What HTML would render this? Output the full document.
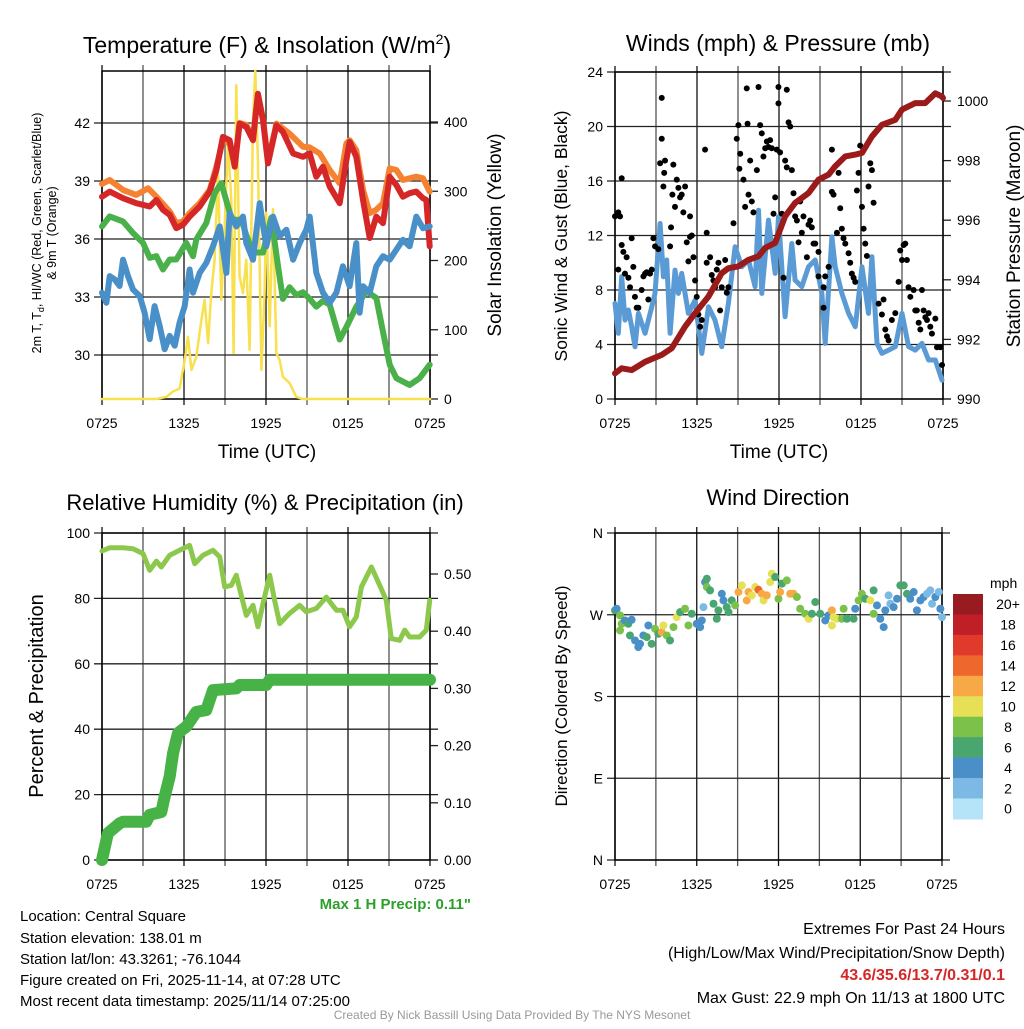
<!DOCTYPE html>
<html><head><meta charset="utf-8">
<style>
html,body{margin:0;padding:0;background:#fff;}
body{width:1024px;height:1024px;overflow:hidden;position:relative;font-family:"Liberation Sans",Arial,sans-serif;}
svg text{font-family:"Liberation Sans",Arial,sans-serif;}
</style></head>
<body>
<svg id="c" width="1024" height="1024" viewBox="0 0 1024 1024" xmlns="http://www.w3.org/2000/svg">
<g id="g1"></g>
<g id="g2"></g>
<g id="g3"></g>
<g id="g4"></g>
<g id="tx">
<text x="267" y="53" font-size="23" text-anchor="middle">Temperature (F) &amp; Insolation (W/m<tspan font-size="14" dy="-9">2</tspan><tspan dy="9">)</tspan></text>
<text x="778" y="51" font-size="23" text-anchor="middle">Winds (mph) &amp; Pressure (mb)</text>
<text x="265" y="510" font-size="22" text-anchor="middle">Relative Humidity (%) &amp; Precipitation (in)</text>
<text x="778" y="505" font-size="22" text-anchor="middle">Wind Direction</text>
<text x="267" y="458" font-size="19" text-anchor="middle">Time (UTC)</text>
<text x="779" y="458" font-size="19" text-anchor="middle">Time (UTC)</text>
<text transform="translate(41,233) rotate(-90)" font-size="12.5" text-anchor="middle">2m T, T<tspan font-size="9" dy="3">d</tspan><tspan dy="-3">, HI/WC (Red, Green, Scarlet/Blue)</tspan></text>
<text transform="translate(56,233) rotate(-90)" font-size="12.5" text-anchor="middle">&amp; 9m T (Orange)</text>
<text transform="translate(501,235) rotate(-90)" font-size="19" text-anchor="middle">Solar Insolation (Yellow)</text>
<text transform="translate(567,236) rotate(-90)" font-size="17.5" text-anchor="middle">Sonic Wind &amp; Gust (Blue, Black)</text>
<text transform="translate(1020,236) rotate(-90)" font-size="19" text-anchor="middle">Station Pressure (Maroon)</text>
<text transform="translate(43,696) rotate(-90)" font-size="20" text-anchor="middle">Percent &amp; Precipitation</text>
<text transform="translate(567,696) rotate(-90)" font-size="17" text-anchor="middle">Direction (Colored By Speed)</text>
<text x="471" y="909" font-size="15" font-weight="bold" fill="#2ca02c" text-anchor="end">Max 1 H Precip: 0.11"</text>
<g font-size="15">
<text x="20" y="921">Location: Central Square</text>
<text x="20" y="943">Station elevation: 138.01 m</text>
<text x="20" y="964">Station lat/lon: 43.3261; -76.1044</text>
<text x="20" y="985">Figure created on Fri, 2025-11-14, at 07:28 UTC</text>
<text x="20" y="1006">Most recent data timestamp: 2025/11/14 07:25:00</text>
</g>
<g font-size="16" text-anchor="end">
<text x="1005" y="934">Extremes For Past 24 Hours</text>
<text x="1005" y="958">(High/Low/Max Wind/Precipitation/Snow Depth)</text>
<text x="1005" y="980" fill="#d62728" font-weight="bold">43.6/35.6/13.7/0.31/0.1</text>
<text x="1005" y="1003">Max Gust: 22.9 mph On 11/13 at 1800 UTC</text>
</g>
<text x="512" y="1019" font-size="12" fill="#999" text-anchor="middle">Created By Nick Bassill Using Data Provided By The NYS Mesonet</text>
</g>
</svg>
<script>
// ---- Panel 1 data ----
const xTickLabels = ["0725","1325","1925","0125","0725"];
const redHours = [0,0.56,1.54,2.51,3.49,3.98,4.46,4.95,5.44,5.93,6.41,7.15,7.88,8.37,8.85,9.34,9.71,10.07,10.56,11.05,11.41,11.78,12.15,12.76,13.24,13.98,14.71,15.2,15.68,16.17,16.66,17.39,17.88,18.12,18.61,19.1,19.59,20.07,20.56,21.05,21.54,22.02,22.51,23.0,23.49,23.73,23.98];
const redTemp = [38.19,38.45,38.11,37.85,37.68,38.02,37.51,37.25,36.56,36.74,37.16,37.68,38.45,39.57,41.28,41.11,39.74,41.97,41.8,41.11,43.51,42.14,39.91,41.88,41.54,40.42,40.25,40.42,39.22,39.74,38.71,37.85,40.08,41.02,40.25,38.02,36.05,37.16,36.82,39.22,38.79,38.19,38.37,38.45,38.11,38.02,35.62];
const orangeHours = [0,0.56,1.54,2.51,3.37,3.98,4.95,5.44,5.93,6.41,7.15,7.88,8.37,8.85,9.34,9.71,10.07,10.56,11.05,11.41,11.78,12.15,12.76,13.73,14.71,15.2,15.93,16.66,17.39,17.88,18.12,18.61,19.1,19.59,20.07,20.56,21.05,21.54,22.02,22.51,23.0,23.49,23.98];
const orangeTemp = [38.85,39.05,38.54,38.28,38.62,38.19,37.42,36.82,36.91,37.34,37.85,38.54,39.74,41.11,40.94,39.9,42.0,41.9,41.2,43.5,42.2,40.0,41.97,41.45,40.77,40.74,40.42,39.57,38.88,40.94,41.11,40.59,38.54,37.34,37.51,37.85,39.65,39.57,39.05,39.14,39.22,39.14,38.45];
const greenHours = [0,0.56,1.54,2.27,3.0,3.49,3.98,4.46,4.95,5.44,6.17,6.66,6.9,7.63,8.24,8.73,9.5,10.2,10.56,11.05,11.78,12.39,12.88,13.24,13.73,14.22,14.71,15.2,15.68,16.17,16.66,17.39,17.88,18.61,19.34,20.07,20.56,21.05,21.54,22.51,23.24,23.98];
const greenTemp = [36.65,37.17,36.91,36.31,35.8,35.03,35.11,34.42,34.94,34.94,35.8,35.11,35.97,36.83,38.37,38.88,37.0,37.0,36.2,35.3,35.3,37.1,34.6,32.9,33.5,33.1,33.25,32.9,32.5,32.8,32.6,30.8,31.45,32.5,33.3,32.95,31.2,29.5,28.8,28.45,28.8,29.5];
const blueHours = [0,0.32,0.56,0.93,1.29,1.54,1.9,2.27,2.76,3.12,3.49,3.85,4.22,4.59,4.95,5.32,5.68,6.05,6.41,6.66,7.15,7.63,8.12,8.61,9.1,9.34,9.83,10.32,10.56,11.05,11.54,12.02,12.51,13.0,13.49,13.98,14.46,14.95,15.2,15.68,16.17,16.66,17.15,17.63,18.12,18.61,18.85,19.1,19.59,20.07,20.56,21.05,21.54,22.02,22.51,23.0,23.49,23.98];
const blueTemp = [33.22,32.7,34.08,33.91,33.57,34.93,34.08,33.39,33.05,32.19,30.82,32.53,31.5,30.3,30.99,30.48,31.68,32.53,34.42,33.22,34.25,34.76,35.62,36.65,34.25,37.34,36.65,37.16,35.79,34.93,37.85,35.62,37.16,36.14,36.48,34.93,35.79,36.48,37.16,34.25,33.22,32.7,33.22,34.59,33.56,35.79,32.19,33.56,33.22,34.59,35.11,34.93,35.45,35.96,35.62,37.16,36.56,36.65];
const solarHours = [0,3.98,4.71,5.2,5.68,6.05,6.29,6.54,6.9,7.27,7.51,7.76,8.0,8.24,8.49,8.73,8.98,9.22,9.46,9.63,9.83,10.07,10.32,10.56,10.8,11.05,11.22,11.41,11.66,11.9,12.02,12.27,12.51,12.76,13.0,13.24,13.73,14.22,14.71,24];
const solarVals = [0,0,3,11,15,56,90,42,61,114,143,81,153,201,327,143,250,370,288,66,453,177,153,201,71,404,474,346,42,153,269,105,274,66,56,32,23,3,0,0];
const tempTicks = [30,33,36,39,42];
const solarTicks = [0,100,200,300,400];
// ---- Panel 2 data ----
const windHours = [0,0.24,0.49,0.73,0.98,1.22,1.46,1.71,2.2,2.69,2.93,3.3,3.54,3.78,4.03,4.39,4.64,4.88,5.37,5.86,6.35,6.84,7.32,7.81,8.3,8.79,9.28,9.77,10.25,10.5,10.74,11.23,11.72,11.96,12.45,12.94,13.18,13.67,14.16,14.65,15.14,15.38,15.87,16.11,16.6,17.09,17.58,18.07,18.55,18.8,19.17,19.53,20.02,20.51,21.0,21.48,21.97,22.46,22.95,23.44,23.93];
const windSpeed = [7.02,4.82,8.99,5.79,6.53,5.31,3.84,6.28,4.82,6.77,7.75,12.88,8.97,10.2,4.82,9.46,7.75,9.22,6.28,7.26,3.35,6.77,5.79,3.84,7.02,11.17,9.7,10.2,8.24,13.86,7.75,13.13,9.22,13.37,6.04,11.41,8.73,8.24,9.7,10.2,7.75,4.08,11.9,9.7,7.75,6.28,5.31,9.7,6.28,10.44,4.08,3.35,3.59,3.84,6.28,3.84,3.59,4.08,2.86,2.86,1.39];
const gustHours = [0,0.24,0.37,0.24,0.49,0.61,0.49,0.85,0.73,0.98,1.1,1.22,1.34,1.46,1.59,1.71,1.95,2.08,2.2,2.32,2.44,2.56,2.69,2.81,2.93,3.17,3.3,3.42,3.42,3.54,3.6,3.66,4.03,4.1,4.2,4.27,4.39,4.52,4.64,4.76,4.88,5.0,5.13,5.25,5.37,5.49,5.62,5.49,5.74,5.86,5.98,6.1,6.23,6.35,6.59,6.71,6.71,6.96,7.08,7.2,7.32,7.45,7.57,7.69,7.81,8.06,8.18,8.3,8.67,8.91,9.03,9.1,9.16,9.4,9.52,9.64,9.7,9.77,9.89,10.01,10.13,10.38,10.5,10.62,10.74,10.86,10.99,11.11,11.23,11.35,11.47,11.6,11.72,11.84,11.96,11.96,12.08,12.21,12.33,12.45,12.57,12.57,12.7,12.82,12.94,13.06,13.18,13.31,13.43,13.55,13.67,13.79,14.04,14.16,14.28,14.4,14.53,14.65,14.89,14.89,15.26,15.26,15.38,15.63,15.87,15.87,15.99,16.24,16.36,16.48,16.6,16.72,16.85,17.09,17.21,17.33,17.46,17.58,17.7,17.82,17.94,18.07,18.19,18.31,18.43,18.55,18.68,18.8,18.92,19.29,19.53,19.65,19.78,19.9,20.02,20.26,20.51,20.75,20.87,21.0,21.12,21.24,21.36,21.48,21.61,21.85,21.97,22.09,22.22,22.34,22.46,22.58,22.71,22.83,22.95,23.07,23.19,23.44,23.56,23.8,23.93];
const gustSpeed = [13.4,13.7,13.4,9.5,11.3,10.8,16.2,10.4,9.2,8.9,8.2,11.8,9.7,7.5,6.7,6.7,8.0,9.0,9.2,9.3,7.3,9.2,9.5,11.8,11.2,11.0,17.3,22.1,19.1,15.6,16.6,17.5,11.2,12.6,15.0,17.2,14.1,16.1,15.5,14.8,15.0,13.7,15.6,11.5,10.1,11.9,12.0,13.4,10.4,8.7,7.5,6.2,5.3,5.8,18.3,12.2,10.0,10.4,9.1,8.7,8.2,9.5,10.0,6.5,8.2,10.2,7.8,8.2,12.9,19.1,20.1,16.9,18.0,16.1,14.1,22.8,20.2,15.0,17.5,14.5,13.7,16.8,22.9,20.1,19.5,17.8,18.4,18.9,18.5,19.0,18.4,13.6,14.8,18.3,22.9,21.7,18.1,13.6,8.9,17.5,17.0,22.7,20.3,20.0,16.8,15.1,13.4,13.1,11.5,14.5,12.2,13.4,10.4,12.8,13.1,12.6,11.4,11.4,10.8,9.0,8.2,6.7,9.0,9.7,18.3,15.2,15.0,12.2,16.6,14.0,12.5,11.8,11.4,10.7,10.0,9.2,8.9,8.6,15.3,16.6,18.6,14.1,12.5,11.4,10.5,15.6,17.3,16.8,14.4,7.0,6.2,7.3,5.1,4.6,4.3,5.8,6.3,8.6,10.9,10.2,11.3,11.4,10.2,8.2,7.5,8.0,6.5,6.5,5.6,5.1,8.0,6.5,6.0,5.8,6.3,5.3,4.8,5.9,3.8,3.8,2.5];
const presHours = [0,0.49,1.22,2.2,3.42,4.15,5.13,5.86,6.84,7.81,8.3,9.03,9.77,10.5,10.99,11.72,12.45,13.18,14.16,14.89,15.63,16.11,16.85,17.58,18.07,18.8,19.53,20.51,21.0,21.97,22.7,23.44,23.93,24];
const presVals = [990.86,991.03,990.97,991.25,991.48,991.7,992.43,992.88,993.44,994.22,994.39,994.45,994.67,994.79,995.07,995.24,996.13,996.58,996.91,997.36,997.53,997.81,998.14,998.2,998.26,998.81,999.2,999.37,999.71,999.93,999.93,1000.26,1000.15,1000.1];
const windTicks = [0,4,8,12,16,20,24];
const presTicks = [990,992,994,996,998,1000];
// ---- Panel 3 data ----
const rhHours = [0,0.56,1.54,2.27,3.0,3.49,3.98,4.34,4.95,5.68,6.41,6.78,7.39,8.12,8.61,8.98,9.46,9.83,10.07,10.56,11.05,11.41,11.78,12.27,12.63,13.0,13.73,14.46,14.95,15.68,16.41,17.15,17.63,18.12,18.61,18.98,19.71,20.32,20.8,21.17,21.78,22.15,22.51,23.24,23.73,23.98];
const rhVals = [94.5,95.5,95.5,95.2,93.7,88.6,91.4,89.6,93.2,94.7,96.2,90.6,93.2,94.7,92.7,83.5,84.0,87.1,83.0,74.8,77.9,71.3,78.4,87.1,79.4,72.3,75.4,77.9,75.9,76.9,80.4,76.4,76.4,71.3,74.3,83.5,89.6,84.0,79.4,67.7,67.2,70.3,68.2,68.2,70.3,79.4];
const precipHours = [0,0.32,0.44,0.68,1.29,1.54,3.24,3.49,4.34,4.59,4.95,5.2,5.56,6.17,6.9,7.63,8.12,9.83,10.07,12.02,12.27,24];
const precipVals = [0,0.035,0.047,0.052,0.064,0.067,0.067,0.079,0.084,0.111,0.146,0.187,0.222,0.233,0.259,0.262,0.297,0.300,0.306,0.306,0.315,0.315];
const rhTicks = [0,20,40,60,80,100];
const precipTicks = [0,0.1,0.2,0.3,0.4,0.5];
// ---- Panel 4 data ----
const dirHours = [0,0.12,0.37,0.49,0.37,0.73,0.98,1.22,1.1,1.47,1.71,1.84,2.08,2.33,2.45,2.69,2.94,3.18,3.43,3.55,3.8,4.04,4.29,4.53,4.78,5.14,5.39,5.63,6.0,6.25,6.37,6.49,6.61,6.74,6.74,6.98,7.23,7.47,7.59,7.84,7.96,8.2,8.33,8.57,8.82,9.06,9.31,9.67,9.8,10.04,10.29,10.53,10.78,10.9,11.14,11.39,11.51,11.76,12.0,12.12,12.25,12.61,12.86,13.1,13.35,13.59,13.96,14.21,14.45,14.7,15.06,15.43,15.67,15.92,16.04,15.92,16.29,16.65,16.78,17.02,17.51,17.63,17.88,18.12,18.37,18.74,18.98,18.98,19.23,19.47,19.72,19.84,20.08,20.21,20.45,20.7,20.94,21.19,21.43,21.67,21.92,22.16,22.41,22.65,22.9,23.14,23.27,23.51,23.76,23.88,24.0];
const dirDeg = [274.8,276.6,269.3,260.1,252.7,263.7,260.1,264.5,247.2,241.7,234.4,238.0,247.2,245.4,258.2,238.0,254.6,249.1,250.9,258.2,247.2,241.7,256.4,267.4,272.9,276.6,258.2,271.1,260.1,256.4,263.7,278.4,306.0,309.7,300.5,296.8,282.1,265.6,274.8,293.1,285.8,278.4,272.9,285.8,280.3,295.0,302.3,285.8,295.0,291.3,300.5,297.5,293.1,285.8,291.3,306.0,315.2,311.5,287.6,295.0,304.2,307.8,293.1,293.1,289.5,276.6,271.1,265.6,271.1,284.0,271.1,263.7,269.3,274.8,267.4,258.2,265.6,265.6,276.6,265.6,265.6,276.6,285.8,293.1,287.6,285.8,296.8,271.1,280.3,265.6,256.4,274.8,291.3,282.1,278.4,287.6,302.3,302.3,293.1,287.6,295.0,274.8,285.8,289.5,293.1,296.8,282.1,289.5,295.0,276.6,267.4];
const dirSpeed = [6,4,8,8,8,4,6,4,6,4,4,4,4,6,4,6,8,6,12,10,8,6,8,10,6,8,8,6,4,4,4,2,4,6,8,6,6,6,6,4,4,6,6,6,8,12,10,12,12,10,10,14,12,10,12,10,10,6,8,12,6,8,12,12,8,8,8,10,6,6,6,4,4,12,10,10,10,8,8,6,6,4,8,8,6,10,6,8,4,4,4,4,2,2,4,4,6,6,6,4,4,4,4,4,2,2,2,4,2,4,2];
const speedBins = ["0","2","4","6","8","10","12","14","16","18","20+"];
const speedColors = ["#b5e4f8","#7cb9e4","#4a8fc8","#49a66f","#7cc24a","#e6e056","#f7a946","#ee682d","#df3a2c","#c01f27","#981b1f"];
const dirTickLabels = ["N","E","S","W","N"];
const dirTicks = [0,90,180,270,360];

const NS="http://www.w3.org/2000/svg";
function mk(parent,tag,attrs){const e=document.createElementNS(NS,tag);for(const k in attrs)e.setAttribute(k,attrs[k]);parent.appendChild(e);return e;}
function scale(d0,d1,r0,r1){return v=>r0+(v-d0)/(d1-d0)*(r1-r0);}

function frame(g,L,R,T,B,sx,ySpec,ySpec2){
  for(let h=0;h<=24;h+=3){
    const x=sx(h);
    const ln=mk(g,'line',{x1:x,x2:x,y1:T-6,y2:B+6,stroke:(h%6===0)?'#111':'#555','stroke-width':1.3});
    
    
  }
  xTickLabels.forEach((lab,i)=>{
    const t=mk(g,'text',{x:sx(i*6),y:B+29,'font-size':14,'text-anchor':'middle'});
    
    
    t.textContent=lab;
  });
  ySpec.ticks.forEach((v,i)=>{
    const y=ySpec.s(v);
    const ln=mk(g,'line',{x1:L-8,x2:R+8,y1:y,y2:y,stroke:'#222','stroke-width':1.3});
    
    
    const t=mk(g,'text',{x:L-12,y:y+5,'font-size':14,'text-anchor':'end'});
    
    
    t.textContent=ySpec.labels?ySpec.labels[i]:v;
  });
  if(ySpec2){
    ySpec2.ticks.forEach(v=>{
      const y=ySpec2.s(v);
      const ln=mk(g,'line',{x1:R,x2:R+8,y1:y,y2:y,stroke:'#222','stroke-width':1.3});
      
      
      const t=mk(g,'text',{x:R+14,y:y+5,'font-size':14});
      
      
      t.textContent=ySpec2.fmt?ySpec2.fmt(v):v;
    });
  }
  const r=mk(g,'rect',{x:L,y:T,width:R-L,height:B-T,fill:'none',stroke:'#000','stroke-width':1.5});
  
  
}
function path(g,xs,ys,sx,sy,color,w,name){
  let d='';for(let i=0;i<xs.length;i++){d+=(i?'L':'M')+sx(xs[i]).toFixed(1)+','+sy(ys[i]).toFixed(1);}
  const p=mk(g,'path',{d:d,fill:'none',stroke:color,'stroke-width':w,'stroke-linejoin':'round','stroke-linecap':'round'});
  
  
  return p;
}

(function(){
  const g=document.getElementById('g1');
  const L=102,R=430,T=71,B=399;
  const sx=scale(0,24,L,R), sy=scale(30,42,355,123), sy2=scale(0,400,399,122);
  frame(g,L,R,T,B,sx,{ticks:tempTicks,s:sy},{ticks:solarTicks,s:sy2});
  path(g,solarHours,solarVals,sx,sy2,'#f8e04e',2.5,'solar-insolation-line');
  path(g,orangeHours,orangeTemp,sx,sy,'#f58231',6,'temp-9m-line');
  path(g,redHours,redTemp,sx,sy,'#d62728',6,'temp-2m-line');
  path(g,greenHours,greenTemp,sx,sy,'#4ab04a',6,'dewpoint-line');
  path(g,blueHours,blueTemp,sx,sy,'#4a90c8',6,'windchill-line');
})();
(function(){
  const g=document.getElementById('g2');
  const L=615,R=943,T=72,B=399;
  const sx=scale(0,24,L,R), sy=scale(0,24,399,72), sy2=scale(990,1000,399,101);
  frame(g,L,R,T,B,sx,{ticks:windTicks,s:sy},{ticks:presTicks,s:sy2});
  path(g,windHours,windSpeed,sx,sy,'#5b9bd5',5,'sonic-wind-line');
  gustHours.forEach((h,i)=>{
    const c=mk(g,'circle',{cx:sx(h),cy:sy(gustSpeed[i]),r:3,fill:'#000'});
    
    
  });
  path(g,presHours,presVals,sx,sy2,'#9b1b1b',6,'pressure-line');
})();
(function(){
  const g=document.getElementById('g3');
  const L=102,R=430,T=533,B=860;
  const sx=scale(0,24,L,R), sy=scale(0,100,860,533), sy2=scale(0,0.5,860,574);
  frame(g,L,R,T,B,sx,{ticks:rhTicks,s:sy},{ticks:precipTicks,s:sy2,fmt:v=>v.toFixed(2)});
  path(g,rhHours,rhVals,sx,sy,'#8cc84b',5,'relative-humidity-line');
  path(g,precipHours,precipVals,sx,sy2,'#47b347',12,'precipitation-line');
})();
(function(){
  const g=document.getElementById('g4');
  const L=615,R=942,T=533,B=860;
  const sx=scale(0,24,L,R), sy=scale(0,360,860,533);
  frame(g,L,R,T,B,sx,{ticks:dirTicks,s:sy,labels:dirTickLabels});
  dirHours.forEach((h,i)=>{
    const bin=Math.min(10,Math.floor(dirSpeed[i]/2));
    const c=mk(g,'circle',{cx:sx(h),cy:sy(dirDeg[i]),r:4,fill:speedColors[bin]});
    
    
  });
  const cb=mk(g,'g',{});
  
  
  const t0=mk(cb,'text',{x:990,y:588,'font-size':14});
  
  
  t0.textContent='mph';
  const top=594,hh=20.45;
  speedBins.forEach((lab,i)=>{
    const k=10-i;
    const r=mk(cb,'rect',{x:953,y:top+i*hh,width:30,height:hh+0.5,fill:speedColors[k]});
    
    
    const t=mk(cb,'text',{x:1008,y:top+i*hh+hh/2+5,'font-size':14,'text-anchor':'middle'});
    
    
    t.textContent=speedBins[k];
  });
})();
</script>
</body></html>
